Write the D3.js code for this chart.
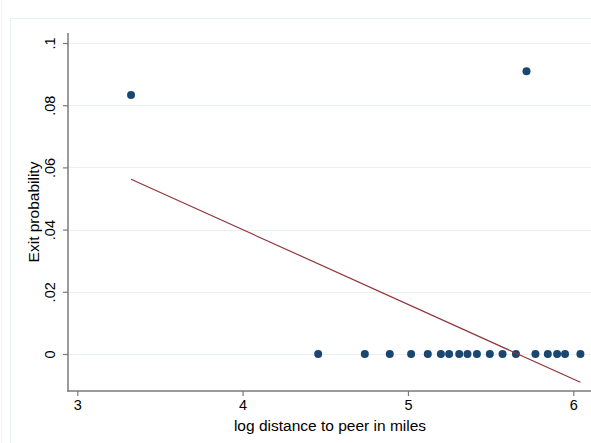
<!DOCTYPE html>
<html>
<head>
<meta charset="utf-8">
<script src="https://cdn.jsdelivr.net/npm/d3@7"></script>
<style>
  html, body { margin: 0; padding: 0; background: #ffffff; }
  svg { display: block; font-family: "Liberation Sans", Arial, Helvetica, sans-serif; }
</style>
</head>
<body>
<svg id="chart" width="591" height="443"></svg>
<script>
// Log distance to peer (x) and exit probability (y) for each observation
const logDistance = [3.325, 5.717, 4.457, 4.739, 4.890, 5.019, 5.120, 5.199, 5.249,
  5.310, 5.360, 5.417, 5.495, 5.572, 5.653, 5.771, 5.846, 5.902, 5.950, 6.043];
const exitProb = [0.0833, 0.0909, 0, 0, 0, 0, 0, 0, 0,
  0, 0, 0, 0, 0, 0, 0, 0, 0, 0, 0];

// Linear fit, evaluated at the ends of the x range
const fitX = [3.325, 6.043];
const fitY = [0.0562, -0.0091];

const xTicks = [3, 4, 5, 6];
const yTicks = [0, 0.02, 0.04, 0.06, 0.08, 0.1];
const yTickLabels = ["0", ".02", ".04", ".06", ".08", ".1"];

const svg = d3.select("#chart");
const W = 591, H = 443;

const x = d3.scaleLinear().domain([3, 6]).range([77.3, 573.3]);
const y = d3.scaleLinear().domain([0, 0.1]).range([354, 43]);

const axisLeft = 68, axisBottom = 391, axisTop = 33, axisRight = 591;
const axisColor = "#7a7a7a";
const gridColor = "#e9f0f2";

// graph region outline
svg.append("rect")
  .attr("x", 10.5).attr("y", 18.5)
  .attr("width", W).attr("height", H)
  .attr("fill", "#ffffff")
  .attr("stroke", gridColor).attr("stroke-width", 1);
svg.append("line")
  .attr("x1", 1.5).attr("x2", 1.5).attr("y1", 0).attr("y2", H)
  .attr("stroke", "#f1f4f5");

// horizontal gridlines
svg.append("g").selectAll("line").data(yTicks).join("line")
  .attr("x1", axisLeft).attr("x2", axisRight)
  .attr("y1", d => Math.round(y(d)) + 0.5).attr("y2", d => Math.round(y(d)) + 0.5)
  .attr("stroke", gridColor).attr("stroke-width", 1);

// y axis
const yAxis = d3.axisLeft(y).tickValues(yTicks)
  .tickFormat((d, i) => yTickLabels[i]).tickSize(5).tickSizeOuter(0);
const gy = svg.append("g").attr("transform", `translate(${axisLeft},0)`).call(yAxis);
gy.select(".domain").remove();
gy.selectAll(".tick line").attr("stroke", axisColor).attr("stroke-width", 1.2);
gy.selectAll(".tick text")
  .attr("font-size", 14.5).attr("fill", "#000")
  .attr("text-anchor", "middle")
  .attr("x", 0).attr("y", 0).attr("dy", "0")
  .attr("transform", "translate(-13,0) rotate(-90)");

// x axis
const xAxis = d3.axisBottom(x).tickValues(xTicks).tickFormat(d3.format("d"))
  .tickSize(5).tickSizeOuter(0);
const gx = svg.append("g").attr("transform", `translate(0,${axisBottom})`).call(xAxis);
gx.select(".domain").remove();
gx.selectAll(".tick line").attr("stroke", axisColor).attr("stroke-width", 1.2);
gx.selectAll(".tick text").attr("font-size", 14.5).attr("fill", "#000").attr("y", 9);

// axis lines
svg.append("line")
  .attr("x1", axisLeft).attr("x2", axisLeft)
  .attr("y1", axisTop).attr("y2", axisBottom + 0.7)
  .attr("stroke", axisColor).attr("stroke-width", 1.5);
svg.append("line")
  .attr("x1", axisLeft - 0.7).attr("x2", axisRight)
  .attr("y1", axisBottom).attr("y2", axisBottom)
  .attr("stroke", axisColor).attr("stroke-width", 1.5);

// scatter points
svg.append("g").selectAll("circle").data(logDistance).join("circle")
  .attr("cx", d => x(d))
  .attr("cy", (d, i) => y(exitProb[i]))
  .attr("r", 4)
  .attr("fill", "#1a476f");

// fitted line
svg.append("path")
  .datum(fitX.map((d, i) => [d, fitY[i]]))
  .attr("d", d3.line().x(d => x(d[0])).y(d => y(d[1])))
  .attr("fill", "none")
  .attr("stroke", "#90353b")
  .attr("stroke-width", 1.2);

// axis titles
svg.append("text")
  .attr("x", 330).attr("y", 431)
  .attr("text-anchor", "middle")
  .attr("font-size", 15.5).attr("fill", "#000")
  .text("log distance to peer in miles");
svg.append("text")
  .attr("transform", `translate(39,${(axisTop + axisBottom) / 2}) rotate(-90)`)
  .attr("text-anchor", "middle")
  .attr("font-size", 15.5).attr("fill", "#000")
  .text("Exit probability");
</script>
</body>
</html>
